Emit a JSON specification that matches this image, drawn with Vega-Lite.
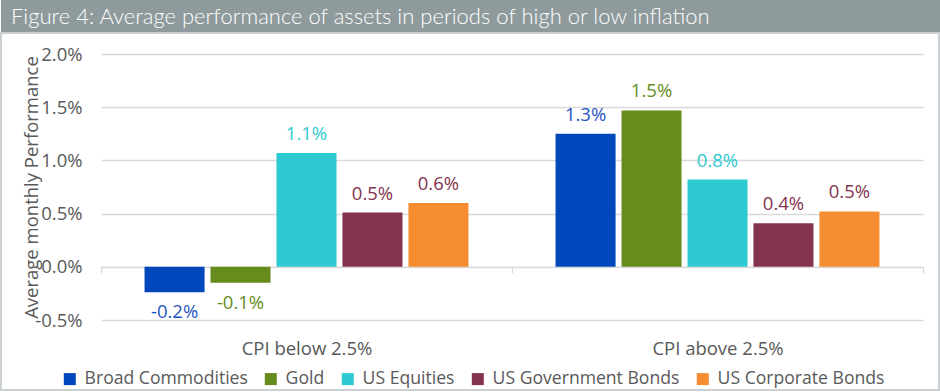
{
  "$schema": "https://vega.github.io/schema/vega-lite/v6.json",
  "padding": 0,
  "spacing": 0,
  "bounds": "flush",
  "config": {"font": "Open Sans", "view": {"stroke": null}},
  "vconcat": [
    {
      "width": 940,
      "height": 33,
      "view": {"fill": "#8E9A9B", "stroke": null},
      "data": {"values": [{"title": "Figure 4: Average performance of assets in periods of high or low inflation"}]},
      "mark": {"type": "text", "align": "left", "baseline": "middle", "font": "Lato", "fontWeight": 300, "fontSize": 22, "color": "#FFFFFF"},
      "encoding": {
        "text": {"field": "title"},
        "x": {"datum": 0.0106, "type": "quantitative", "scale": {"domain": [0, 1]}, "axis": null},
        "y": {"datum": 0.5, "type": "quantitative", "scale": {"domain": [0, 1]}, "axis": null}
      }
    },
    {
      "width": 938,
      "height": 357,
      "view": {"fill": "#FFFFFF", "stroke": "#CBD0D2", "strokeWidth": 2},
      "data": {"values": [
        {"cpi": "CPI below 2.5%", "asset": "Broad Commodities", "value": -0.0024, "label": "-0.2%"},
        {"cpi": "CPI below 2.5%", "asset": "Gold", "value": -0.0015, "label": "-0.1%"},
        {"cpi": "CPI below 2.5%", "asset": "US Equities", "value": 0.0107, "label": "1.1%"},
        {"cpi": "CPI below 2.5%", "asset": "US Government Bonds", "value": 0.0051, "label": "0.5%"},
        {"cpi": "CPI below 2.5%", "asset": "US Corporate Bonds", "value": 0.0060, "label": "0.6%"},
        {"cpi": "CPI above 2.5%", "asset": "Broad Commodities", "value": 0.0125, "label": "1.3%"},
        {"cpi": "CPI above 2.5%", "asset": "Gold", "value": 0.0147, "label": "1.5%"},
        {"cpi": "CPI above 2.5%", "asset": "US Equities", "value": 0.0082, "label": "0.8%"},
        {"cpi": "CPI above 2.5%", "asset": "US Government Bonds", "value": 0.0041, "label": "0.4%"},
        {"cpi": "CPI above 2.5%", "asset": "US Corporate Bonds", "value": 0.0052, "label": "0.5%"}
      ]},
      "encoding": {
        "x": {
          "field": "cpi", "type": "nominal",
          "sort": ["CPI below 2.5%", "CPI above 2.5%"],
          "scale": {"range": [100, 922], "paddingInner": 0, "paddingOuter": 0},
          "axis": {
            "orient": "bottom", "offset": -123.2, "title": null, "labelAngle": 0,
            "domain": true, "domainColor": "#D9D9D9", "domainWidth": 1.3,
            "ticks": true, "tickBand": "extent", "tickSize": 6, "tickColor": "#D9D9D9", "tickWidth": 1.3,
            "labelPadding": 67, "labelFontSize": 18.5, "labelColor": "#595959", "labelBaseline": "top"
          }
        },
        "xOffset": {
          "field": "asset", "type": "nominal",
          "sort": ["Broad Commodities", "Gold", "US Equities", "US Government Bonds", "US Corporate Bonds"],
          "scale": {"paddingInner": 0.09, "paddingOuter": 0.66}
        },
        "y": {
          "field": "value", "type": "quantitative",
          "scale": {"domain": [-0.005, 0.02], "range": [287, 21], "nice": false, "zero": false},
          "axis": {
            "orient": "left", "offset": -100,
            "values": [-0.005, 0, 0.005, 0.01, 0.015, 0.02],
            "format": ".1%",
            "labelExpr": "replace(datum.label, '−', '-')",
            "domain": false, "ticks": false,
            "labelPadding": 19, "labelFontSize": 18.5, "labelColor": "#595959",
            "grid": true, "gridColor": "#D9D9D9", "gridWidth": 1.3,
            "title": "Average monthly Performance",
            "titleFontSize": 18.5, "titleFontWeight": "normal", "titleColor": "#595959",
            "titleX": -70, "titleY": 154, "titleAngle": -90, "titleAlign": "center", "titleBaseline": "middle"
          }
        }
      },
      "layer": [
        {
          "mark": {"type": "bar"},
          "encoding": {
            "color": {
              "field": "asset", "type": "nominal",
              "scale": {
                "domain": ["Broad Commodities", "Gold", "US Equities", "US Government Bonds", "US Corporate Bonds"],
                "range": ["#0047BB", "#668C1E", "#2DCBD1", "#84334F", "#F68E31"]
              },
              "legend": {
                "orient": "none", "legendX": 60, "legendY": 337, "direction": "horizontal",
                "title": null, "symbolType": "square", "symbolSize": 144, "symbolStrokeWidth": 0,
                "labelFontSize": 17.6, "labelColor": "#595959", "labelOffset": 6, "columnPadding": 14,
                "labelLimit": 400, "padding": 0
              }
            }
          }
        },
        {
          "transform": [{"filter": "datum.value >= 0"}],
          "mark": {"type": "text", "baseline": "alphabetic", "dy": -13, "fontSize": 18.5},
          "encoding": {
            "text": {"field": "label"},
            "color": {
              "field": "asset", "type": "nominal",
              "scale": {
                "domain": ["Broad Commodities", "Gold", "US Equities", "US Government Bonds", "US Corporate Bonds"],
                "range": ["#1F55C2", "#668C1E", "#2DCBD1", "#84334F", "#84334F"]
              },
              "legend": null
            }
          }
        },
        {
          "transform": [{"filter": "datum.value < 0"}],
          "mark": {"type": "text", "baseline": "alphabetic", "dy": 26, "fontSize": 18.5},
          "encoding": {
            "text": {"field": "label"},
            "color": {
              "field": "asset", "type": "nominal",
              "scale": {
                "domain": ["Broad Commodities", "Gold", "US Equities", "US Government Bonds", "US Corporate Bonds"],
                "range": ["#1F55C2", "#668C1E", "#2DCBD1", "#84334F", "#84334F"]
              },
              "legend": null
            }
          }
        }
      ],
      "resolve": {"scale": {"color": "independent"}}
    }
  ]
}
